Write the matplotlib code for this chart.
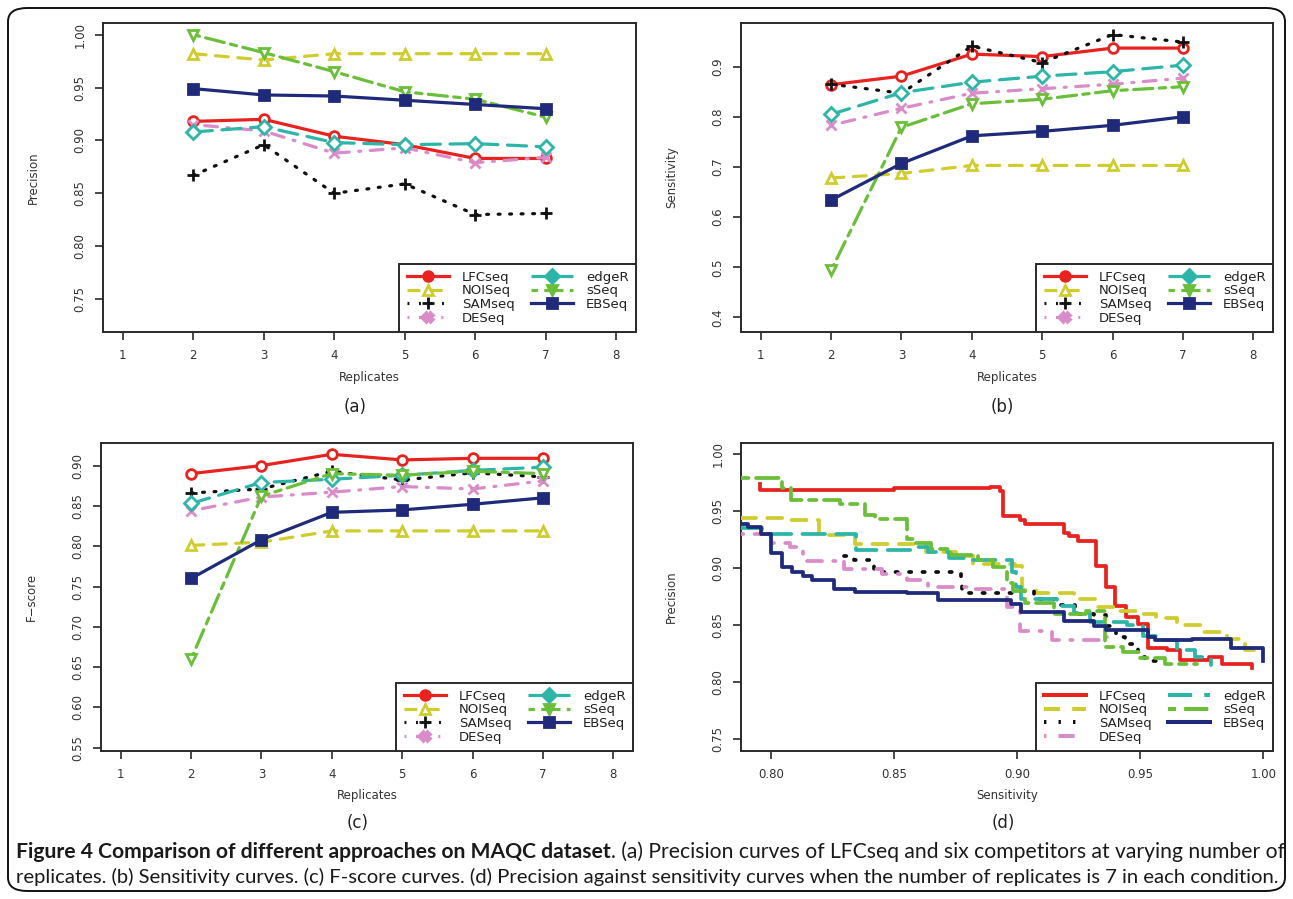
import numpy as np
import matplotlib
matplotlib.use('Agg')
import matplotlib.pyplot as plt
from matplotlib.lines import Line2D
from matplotlib.patches import FancyBboxPatch

# ---- data ----
reps = [2, 3, 4, 5, 6, 7]
methods = ['LFCseq', 'NOISeq', 'SAMseq', 'DESeq', 'edgeR', 'sSeq', 'EBSeq']

# (a) precision, one list per method in the order above
prec_a = [
    [0.918, 0.920, 0.904, 0.896, 0.883, 0.883],
    [0.982, 0.976, 0.982, 0.982, 0.982, 0.982],
    [0.867, 0.896, 0.850, 0.859, 0.830, 0.831],
    [0.915, 0.909, 0.888, 0.893, 0.879, 0.884],
    [0.908, 0.913, 0.898, 0.896, 0.897, 0.894],
    [1.000, 0.983, 0.965, 0.946, 0.939, 0.922],
    [0.949, 0.943, 0.942, 0.938, 0.934, 0.930],
]
# (b) sensitivity
sens_b = [
    [0.864, 0.881, 0.925, 0.920, 0.937, 0.937],
    [0.678, 0.687, 0.703, 0.703, 0.703, 0.703],
    [0.865, 0.847, 0.941, 0.908, 0.964, 0.949],
    [0.783, 0.817, 0.847, 0.856, 0.865, 0.877],
    [0.805, 0.848, 0.869, 0.881, 0.890, 0.903],
    [0.494, 0.779, 0.826, 0.835, 0.852, 0.860],
    [0.634, 0.707, 0.762, 0.771, 0.783, 0.800],
]
# (c) F-score
fscore_c = [
    [0.890, 0.900, 0.914, 0.907, 0.909, 0.909],
    [0.801, 0.805, 0.819, 0.819, 0.819, 0.819],
    [0.866, 0.871, 0.893, 0.882, 0.891, 0.886],
    [0.844, 0.861, 0.867, 0.874, 0.871, 0.881],
    [0.853, 0.879, 0.883, 0.888, 0.894, 0.898],
    [0.660, 0.862, 0.890, 0.888, 0.893, 0.890],
    [0.760, 0.808, 0.842, 0.845, 0.852, 0.860],
]

# (d) precision vs sensitivity, 7 replicates (step curves)
lfc_sens = [0.7955, 0.7955, 0.850, 0.889, 0.893, 0.894, 0.901, 0.903, 0.919, 0.921, 0.9245, 0.9318,
            0.9362, 0.9396, 0.9443, 0.949, 0.9531, 0.961, 0.966, 0.978, 0.983, 0.9954, 0.9954]
lfc_prec = [0.974, 0.969, 0.970, 0.971, 0.968, 0.946, 0.942, 0.939, 0.931, 0.928, 0.924, 0.902,
            0.884, 0.867, 0.857, 0.851, 0.830, 0.828, 0.820, 0.822, 0.816, 0.816, 0.813]
noi_sens = [0.7876, 0.806, 0.8195, 0.834, 0.863, 0.875, 0.882, 0.899, 0.902, 0.9075, 0.923, 0.932,
            0.941, 0.950, 0.9565, 0.965, 0.975, 0.985, 0.9925, 0.998]
noi_prec = [0.944, 0.942, 0.929, 0.921, 0.914, 0.911, 0.904, 0.902, 0.881, 0.878, 0.873, 0.866,
            0.863, 0.860, 0.856, 0.850, 0.844, 0.838, 0.828, 0.824]
sam_sens = [0.8293, 0.8335, 0.8415, 0.877, 0.8775, 0.899, 0.9066, 0.916, 0.9235, 0.931, 0.936,
            0.940, 0.9438, 0.949, 0.952, 0.9565]
sam_prec = [0.911, 0.907, 0.897, 0.891, 0.878, 0.880, 0.873, 0.868, 0.860, 0.859, 0.849,
            0.840, 0.834, 0.822, 0.819, 0.819]
des_sens = [0.7876, 0.799, 0.8076, 0.8127, 0.828, 0.8296, 0.8448, 0.855, 0.8635, 0.882, 0.8956,
            0.901, 0.914, 0.9365]
des_prec = [0.930, 0.922, 0.919, 0.906, 0.907, 0.899, 0.895, 0.890, 0.884, 0.882, 0.866,
            0.845, 0.837, 0.840]
edg_sens = [0.7876, 0.796, 0.8345, 0.8575, 0.8635, 0.872, 0.880, 0.8978, 0.8995, 0.9015, 0.916,
            0.923, 0.9295, 0.9447, 0.951, 0.9565, 0.965, 0.972, 0.9785]
edg_prec = [0.935, 0.930, 0.916, 0.919, 0.914, 0.909, 0.907, 0.897, 0.884, 0.873, 0.867,
            0.861, 0.853, 0.850, 0.841, 0.837, 0.828, 0.822, 0.815]
sseq_sens = [0.7876, 0.8042, 0.808, 0.828, 0.838, 0.842, 0.855, 0.858, 0.865, 0.873, 0.884, 0.890,
             0.8956, 0.898, 0.903, 0.915, 0.928, 0.9355, 0.943, 0.950, 0.960, 0.973]
sseq_prec = [0.979, 0.970, 0.960, 0.956, 0.947, 0.943, 0.926, 0.922, 0.917, 0.912, 0.907, 0.901,
             0.887, 0.880, 0.870, 0.860, 0.863, 0.831, 0.827, 0.821, 0.816, 0.816]
eb_sens = [0.7876, 0.7904, 0.7958, 0.800, 0.8042, 0.8085, 0.8127, 0.8164, 0.8254, 0.8338, 0.855,
           0.8677, 0.8973, 0.9015, 0.919, 0.931, 0.936, 0.953, 0.956, 0.971, 0.987, 1.0]
eb_prec = [0.939, 0.936, 0.930, 0.913, 0.901, 0.897, 0.893, 0.8895, 0.882, 0.879, 0.878,
           0.872, 0.869, 0.862, 0.854, 0.849, 0.846, 0.840, 0.837, 0.838, 0.830, 0.819]

# ---- styles ----
colors = ['#E8231F', '#CFCC2E', '#111111', '#D98CC8', '#2DB5A8', '#6BBE3A', '#1F2A7A']
lstyles = ['-', (0, (4, 3)), (0, (0.6, 3)), (0, (0.6, 3, 4, 3)), (0, (6, 3)), (0, (2, 2, 6, 2)), '-']
markers = ['o', '^', '+', 'x', 'D', 'v', 's']
leg_markers = ['o', '^', '+', 'X', 'D', 'v', 's']
LW = 2.3
INK = '#2a2a2a'

W, H = 1293, 899
fig = plt.figure(figsize=(W / 100, H / 100), dpi=100)
fig.patch.set_facecolor('white')


def px_ax(l, t, r, b):
    return fig.add_axes([l / W, 1 - b / H, (r - l) / W, (b - t) / H])


def style_ax(ax):
    for s in ax.spines.values():
        s.set_linewidth(1.4)
        s.set_color(INK)
    ax.tick_params(direction='out', length=6, width=1.2, color=INK, labelcolor='#333333',
                   labelsize=8.5, pad=6)
    for lab in ax.get_yticklabels():
        lab.set_rotation(90)
        lab.set_va('center')


def add_legend(ax, with_markers=True):
    handles = []
    for i, m in enumerate(methods):
        if with_markers:
            mfc = 'none' if m == 'NOISeq' else colors[i]
            ms = 9 if leg_markers[i] == '+' else 7
            h = Line2D([], [], color=colors[i], ls=lstyles[i], lw=LW, marker=leg_markers[i],
                       ms=ms, mfc=mfc, mec=colors[i], mew=2)
        else:
            h = Line2D([], [], color=colors[i], ls=lstyles[i], lw=LW + 0.6)
        handles.append(h)
    leg = ax.legend(handles, methods, loc='lower right', bbox_to_anchor=(1, 0), ncol=2,
                    borderaxespad=0, fancybox=False, framealpha=1, edgecolor=INK,
                    fontsize=9.5, handlelength=3.2, labelspacing=0.05, columnspacing=1.2,
                    handletextpad=1.0, borderpad=0.55)
    leg.get_frame().set_linewidth(1.4)
    for t in leg.get_texts():
        t.set_color('#222222')
    return leg


def line_panel(ax, data, ylim, yticks, ytl, ylabel, label_x):
    for i, m in enumerate(methods):
        mfc = 'white' if markers[i] in ('o', '^', 'D', 'v') else colors[i]
        ms = 9 if markers[i] == '+' else 7
        ax.plot(reps, data[i], color=colors[i], ls=lstyles[i], lw=LW, marker=markers[i],
                ms=ms, mfc=mfc, mec=colors[i], mew=2, dash_capstyle='round', zorder=3)
    ax.set_xlim(0.72, 8.28)
    ax.set_ylim(*ylim)
    ax.set_xticks(range(1, 9))
    ax.set_yticks(yticks)
    ax.set_yticklabels(ytl)
    style_ax(ax)
    ax.set_xlabel('Replicates', fontsize=8.5, color='#333333')
    ax.xaxis.set_label_coords(0.5, -0.125)
    ax.set_ylabel(ylabel, fontsize=8.5, color='#333333')
    ax.yaxis.set_label_coords(label_x, 0.5)
    add_legend(ax)


ax_a = px_ax(103, 23, 636, 332)
line_panel(ax_a, prec_a, (0.719, 1.011), [0.75, 0.80, 0.85, 0.90, 0.95, 1.00],
           ['0.75', '0.80', '0.85', '0.90', '0.95', '1.00'], 'Precision', -0.118)

ax_b = px_ax(741, 23, 1273, 332)
line_panel(ax_b, sens_b, (0.371, 0.987), [0.4, 0.5, 0.6, 0.7, 0.8, 0.9],
           ['0.4', '0.5', '0.6', '0.7', '0.8', '0.9'], 'Sensitivity', -0.118)

ax_c = px_ax(101, 443, 633, 751)
line_panel(ax_c, fscore_c, (0.546, 0.928), [0.55, 0.60, 0.65, 0.70, 0.75, 0.80, 0.85, 0.90],
           ['0.55', '0.60', '0.65', '0.70', '0.75', '0.80', '0.85', '0.90'], 'F\u2212score', -0.118)

ax_d = px_ax(741, 443, 1273, 751)
curves = [(lfc_sens, lfc_prec), (noi_sens, noi_prec), (sam_sens, sam_prec), (des_sens, des_prec),
          (edg_sens, edg_prec), (sseq_sens, sseq_prec), (eb_sens, eb_prec)]
for i, (xs, ys) in enumerate(curves):
    ax_d.plot(xs, ys, drawstyle='steps-post', color=colors[i], ls=lstyles[i], lw=LW + 0.4,
              dash_capstyle='round', zorder=3)
ax_d.set_xlim(0.7876, 1.0039)
ax_d.set_ylim(0.7398, 1.0099)
ax_d.set_xticks([0.80, 0.85, 0.90, 0.95, 1.00])
ax_d.set_xticklabels(['0.80', '0.85', '0.90', '0.95', '1.00'])
ax_d.set_yticks([0.75, 0.80, 0.85, 0.90, 0.95, 1.00])
ax_d.set_yticklabels(['0.75', '0.80', '0.85', '0.90', '0.95', '1.00'])
style_ax(ax_d)
ax_d.set_xlabel('Sensitivity', fontsize=8.5, color='#333333')
ax_d.xaxis.set_label_coords(0.5, -0.125)
ax_d.set_ylabel('Precision', fontsize=8.5, color='#333333')
ax_d.yaxis.set_label_coords(-0.118, 0.5)
add_legend(ax_d, with_markers=False)

# panel letters
for (x, y, s) in [(355, 407, '(a)'), (1002, 407, '(b)'), (358, 823, '(c)'), (1003, 823, '(d)')]:
    fig.text(x / W, 1 - y / H, s, ha='center', va='center', fontsize=12, color='#222222')

# rounded frame
frame = FancyBboxPatch((8 / W, 8 / H), (W - 16) / W, (H - 16) / H,
                       boxstyle='round,pad=0,rounding_size=0.015', transform=fig.transFigure,
                       fill=False, lw=1.4, ec='#111111')
fig.patches.append(frame)

# caption with a bold lead-in, fitted to the frame width
cap_bold = 'Figure 4 Comparison of different approaches on MAQC dataset'
cap1 = '. (a) Precision curves of LFCseq and six competitors at varying number of'
cap2 = ('replicates. (b) Sensitivity curves. (c) F-score curves. (d) Precision against '
        'sensitivity curves when the number of replicates is 7 in each condition.')
fam = ['Lato', 'DejaVu Sans']
r = fig.canvas.get_renderer()


def put_line(parts, y, target):
    size = 14
    for _ in range(4):
        texts = []
        x = 16
        for s, w in parts:
            t = fig.text(x / W, 1 - y / H, s, fontsize=size, fontweight=w, family=fam,
                         color='#1a1a1a', va='center', ha='left')
            x = t.get_window_extent(r).x1
            texts.append(t)
        width = x - 16
        if abs(width - target) < 2:
            break
        for t in texts:
            t.remove()
        size *= target / width


put_line([(cap_bold, 'bold'), (cap1, 'normal')], 852, 1267)
put_line([(cap2, 'normal')], 877, 1264)

fig.savefig('out.png', dpi=100)
